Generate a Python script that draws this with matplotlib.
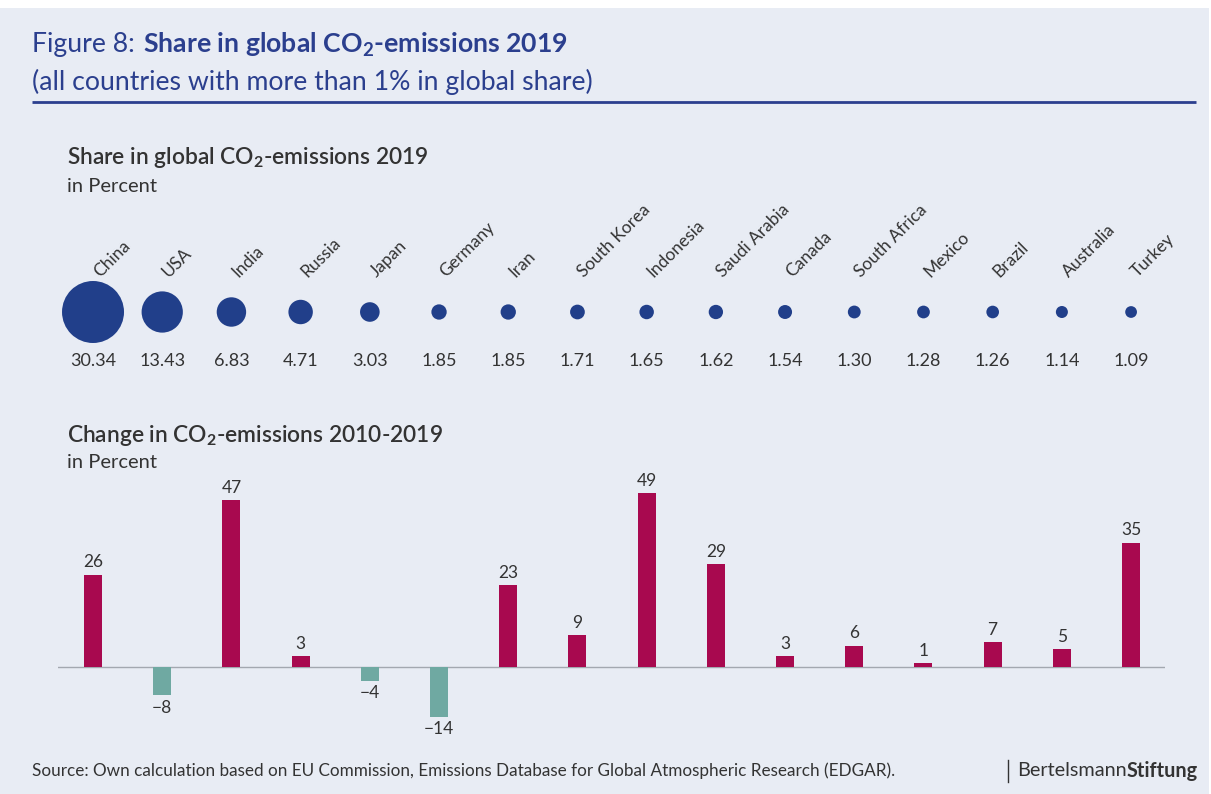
import numpy as np
import matplotlib
matplotlib.use("Agg")
import matplotlib.pyplot as plt

plt.rcParams['font.family'] = ['Lato', 'DejaVu Sans']
plt.rcParams['mathtext.fontset'] = 'custom'
plt.rcParams['mathtext.rm'] = 'Lato'
plt.rcParams['mathtext.bf'] = 'Lato:bold'

# data
countries = ['China', 'USA', 'India', 'Russia', 'Japan', 'Germany', 'Iran', 'South Korea',
             'Indonesia', 'Saudi Arabia', 'Canada', 'South Africa', 'Mexico', 'Brazil',
             'Australia', 'Turkey']
share_2019 = [30.34, 13.43, 6.83, 4.71, 3.03, 1.85, 1.85, 1.71, 1.65, 1.62, 1.54, 1.30,
              1.28, 1.26, 1.14, 1.09]
change_2010_2019 = [26, -8, 47, 3, -4, -14, 23, 9, 49, 29, 3, 6, 1, 7, 5, 35]

BG = '#e8ecf4'
BLUE = '#213f8a'
TITLE_BLUE = '#2b3f8e'
POS = '#a8094f'
NEG = '#6fa9a2'
TXT = '#333333'
W, H = 1211, 794

fig = plt.figure(figsize=(W / 100, H / 100), dpi=100, facecolor='white')

def px_axes(x0, y0, x1, y1):
    # axes given in pixel box (top-left origin)
    return fig.add_axes([x0 / W, 1 - y1 / H, (x1 - x0) / W, (y1 - y0) / H])

# background panel, pixel coordinates
bg = px_axes(0, 8, 1209, H)
bg.set_xlim(0, 1209)
bg.set_ylim(H, 8)
bg.set_facecolor(BG)
bg.set_xticks([])
bg.set_yticks([])
for s in bg.spines.values():
    s.set_visible(False)

t1 = bg.text(32, 45, 'Figure 8:', fontsize=19.2, fontweight='normal', color=TITLE_BLUE,
             va='center', ha='left')
bg.annotate(r'Share in global CO$_\mathbf{2}$-emissions 2019', xy=(1, 0.5), xycoords=t1,
            xytext=(8, 0), textcoords='offset pixels',
            fontsize=19.2, fontweight='bold', color=TITLE_BLUE, va='center', ha='left')
bg.text(32, 82, '(all countries with more than 1% in global share)', fontsize=19.2,
        color=TITLE_BLUE, va='center', ha='left')
bg.plot([32, 1196], [102, 102], color=TITLE_BLUE, lw=2, solid_capstyle='butt')

bg.text(67, 158, r'Share in global CO$_\mathbf{2}$-emissions 2019', fontsize=16.4,
        fontweight='semibold', color=TXT, va='center', ha='left')
bg.text(67, 187, 'in Percent', fontsize=14.5, color=TXT, va='center', ha='left')
bg.text(67, 436, r'Change in CO$_\mathbf{2}$-emissions 2010-2019', fontsize=16.4,
        fontweight='semibold', color=TXT, va='center', ha='left')
bg.text(67, 463, 'in Percent', fontsize=14.5, color=TXT, va='center', ha='left')

bg.text(32, 771, 'Source: Own calculation based on EU Commission, Emissions Database for '
        'Global Atmospheric Research (EDGAR).', fontsize=12.3, color=TXT,
        va='center', ha='left')
bg.plot([1008, 1008], [760, 782], color=TXT, lw=1)
t2 = bg.text(1017, 771, 'Bertelsmann', fontsize=14.3, color=TXT, va='center', ha='left')
bg.annotate('Stiftung', xy=(1, 0.5), xycoords=t2, fontsize=14.3, fontweight='bold',
            color=TXT, va='center', ha='left')

x = np.arange(len(countries))
xlim = (-0.506, len(countries) - 1 + 0.49)

# bubbles
ax1 = px_axes(58, 200, 1165, 380)
ax1.set_xlim(*xlim)
ax1.set_ylim(-68, 112)
ax1.axis('off')
share = np.array(share_2019)
diam_px = 62 * np.sqrt(share / share.max())
ax1.scatter(x, np.zeros_like(x), s=(diam_px * 0.72) ** 2, color=BLUE, linewidths=0)
for i, c in enumerate(countries):
    ax1.text(x[i] + 0.13, 32, c, rotation=45, rotation_mode='anchor', ha='left',
             va='bottom', fontsize=12.5, color=TXT)
    ax1.text(x[i], -49, '{:.2f}'.format(share_2019[i]), ha='center', va='center',
             fontsize=13, color=TXT)

# bars
ax2 = px_axes(58, 474, 1165, 740)
ax2.set_xlim(*xlim)
ax2.set_ylim(-(740 - 667) / 3.55, (667 - 474) / 3.55)
ax2.axis('off')
chg = np.array(change_2010_2019)
colors = [POS if v >= 0 else NEG for v in chg]
ax2.bar(x, chg, width=0.26, color=colors, zorder=2)
ax2.axhline(0, color='#a3a8b0', lw=1, zorder=1)
for i, v in enumerate(chg):
    if v >= 0:
        ax2.text(x[i], v + 1.2, str(v), ha='center', va='bottom', fontsize=12.5, color=TXT)
    else:
        ax2.text(x[i], v - 1.2, '\u2212' + str(-v), ha='center', va='top', fontsize=12.5,
                 color=TXT)

fig.savefig('out.png', dpi=100, facecolor='white')
